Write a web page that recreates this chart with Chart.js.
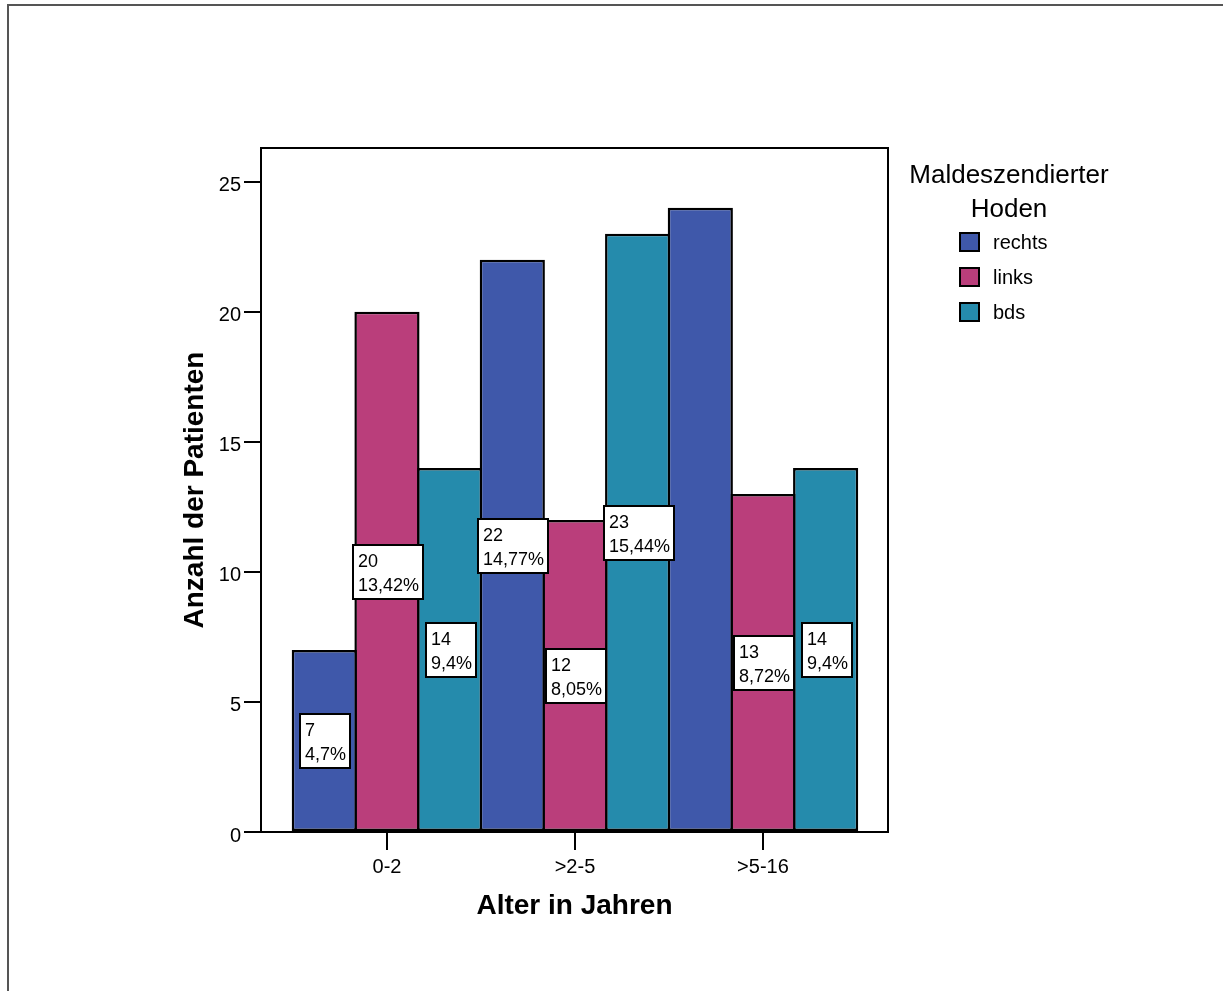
<!DOCTYPE html>
<html>
<head>
<meta charset="utf-8">
<title>Alter in Jahren</title>
<script src="https://cdn.jsdelivr.net/npm/chart.js@4.4.1/dist/chart.umd.min.js"></script>
<style>
  html, body { margin: 0; padding: 0; background: #fff; }
  canvas { display: block; }
</style>
</head>
<body>
<canvas id="myChart" width="1223" height="991"></canvas>
<script>
// values
const ageGroups = ['0-2', '>2-5', '>5-16'];
const rechts = [7, 22, 24];
const links = [20, 12, 13];
const bds = [14, 23, 14];
// percent labels shown in the boxes (the 24 bar has none)
const rechtsPct = ['4,7%', '14,77%', null];
const linksPct = ['13,42%', '8,05%', '8,72%'];
const bdsPct = ['9,4%', '15,44%', '9,4%'];
const yTicks = [0, 5, 10, 15, 20, 25];
const legendTitle = ['Maldeszendierter', 'Hoden'];

const FONT = '"Liberation Sans", Arial, Helvetica, sans-serif';

function points(values) {
    return values.map((v, i) => ({x: i, y: v}));
}

// frame, value boxes, titles and legend
const decorations = {
    id: 'decorations',
    afterDatasetsDraw(chart) {
        const ctx = chart.ctx;
        const a = chart.chartArea;
        ctx.save();
        ctx.strokeStyle = '#000';
        ctx.lineWidth = 2;
        ctx.strokeRect(a.left, a.top, a.right - a.left, a.bottom - a.top);

        ctx.font = '18px ' + FONT;
        ctx.textAlign = 'left';
        ctx.textBaseline = 'alphabetic';
        chart.data.datasets.forEach((ds, i) => {
            const meta = chart.getDatasetMeta(i);
            meta.data.forEach((bar, j) => {
                const pct = ds.pct[j];
                if (!pct) return;
                const lines = [String(ds.data[j].y), pct];
                const w = Math.round(Math.max(...lines.map(t => ctx.measureText(t).width)) + 9);
                const h = 54;
                const left = Math.round(bar.x - w / 2) + 1;
                const top = Math.round((bar.y + bar.base) / 2 - h / 2) + 1;
                ctx.fillStyle = '#fff';
                ctx.fillRect(left, top, w, h);
                ctx.strokeRect(left, top, w, h);
                ctx.fillStyle = '#000';
                ctx.fillText(lines[0], left + 5, top + 22);
                ctx.fillText(lines[1], left + 5, top + 46);
            });
        });
        ctx.restore();
    },
    afterDraw(chart) {
        const ctx = chart.ctx;
        const a = chart.chartArea;
        ctx.save();

        // outer border of the picture
        ctx.strokeStyle = '#555';
        ctx.lineWidth = 2;
        ctx.beginPath();
        ctx.moveTo(8, 991);
        ctx.lineTo(8, 5);
        ctx.lineTo(1223, 5);
        ctx.stroke();

        // axis titles
        ctx.fillStyle = '#000';
        ctx.font = 'bold 28px ' + FONT;
        ctx.textAlign = 'center';
        ctx.textBaseline = 'alphabetic';
        ctx.fillText('Alter in Jahren', (a.left + a.right) / 2, 914);
        ctx.save();
        ctx.translate(203, (a.top + a.bottom) / 2);
        ctx.rotate(-Math.PI / 2);
        ctx.fillText('Anzahl der Patienten', 0, 0);
        ctx.restore();

        // legend
        ctx.font = '26px ' + FONT;
        ctx.fillText(legendTitle[0], 1009, 183);
        ctx.fillText(legendTitle[1], 1009, 217);
        ctx.font = '20px ' + FONT;
        ctx.textAlign = 'left';
        ctx.lineWidth = 2;
        ctx.strokeStyle = '#000';
        chart.data.datasets.forEach((ds, i) => {
            const cy = 242 + i * 35;
            ctx.fillStyle = ds.backgroundColor;
            ctx.fillRect(960, cy - 9, 19, 18);
            ctx.strokeRect(960, cy - 9, 19, 18);
            ctx.fillStyle = '#000';
            ctx.fillText(ds.label, 993, cy + 7);
        });
        ctx.restore();
    }
};

const ctx = document.getElementById('myChart');

new Chart(ctx, {
    type: 'bar',
    data: {
        datasets: [
            { label: 'rechts', data: points(rechts), pct: rechtsPct, backgroundColor: '#3f58aa' },
            { label: 'links', data: points(links), pct: linksPct, backgroundColor: '#ba3e7b' },
            { label: 'bds', data: points(bds), pct: bdsPct, backgroundColor: '#258bac' }
        ]
    },
    options: {
        responsive: false,
        animation: false,
        layout: { padding: { left: 201, right: 335, top: 148, bottom: 109 } },
        plugins: {
            legend: { display: false },
            tooltip: { enabled: false }
        },
        datasets: {
            bar: {
                categoryPercentage: 1,
                barPercentage: 1.04,
                borderWidth: 2.5,
                borderColor: '#000',
                borderSkipped: false,
                inflateAmount: 0
            }
        },
        scales: {
            x: {
                type: 'linear',
                offset: false,
                min: -0.67,
                max: 2.665,
                afterBuildTicks: s => { s.ticks = ageGroups.map((_, i) => ({value: i})); },
                afterFit: s => { s.height = 50; },
                border: { display: false },
                grid: { offset: false, drawOnChartArea: false, tickLength: 18, color: '#000', lineWidth: 2 },
                ticks: {
                    callback: v => ageGroups[v],
                    color: '#000',
                    font: { family: FONT, size: 20 },
                    padding: 5,
                    maxRotation: 0,
                    autoSkip: false
                }
            },
            y: {
                min: 0,
                max: 26.3,
                afterBuildTicks: s => { s.ticks = yTicks.map(v => ({value: v})); },
                afterFit: s => { s.width = 60; },
                border: { display: false },
                grid: { drawOnChartArea: false, tickLength: 17, color: '#000', lineWidth: 2 },
                ticks: {
                    color: '#000',
                    font: { family: FONT, size: 20 },
                    padding: 3,
                    labelOffset: 4
                }
            }
        }
    },
    plugins: [decorations]
});
</script>
</body>
</html>
